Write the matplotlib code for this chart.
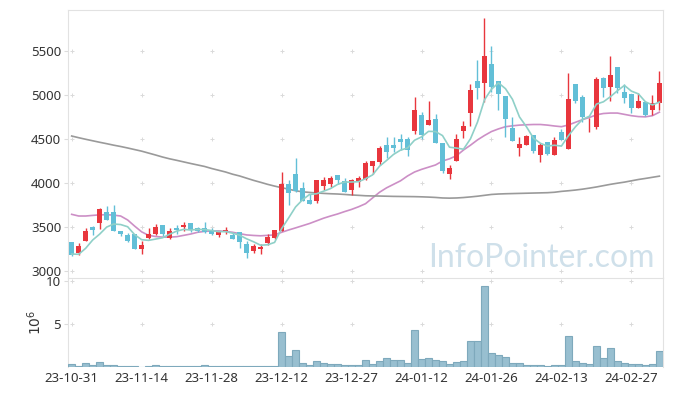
import matplotlib
matplotlib.use('Agg')
import matplotlib.pyplot as plt
import numpy as np

plt.rcParams['font.family'] = ['Noto Sans', 'DejaVu Sans']

tick_labels = ['23-10-31', '23-11-14', '23-11-28', '23-12-12', '23-12-27',
               '24-01-12', '24-01-26', '24-02-13', '24-02-27']

opens = [3330, 3200, 3345, 3500, 3540, 3670, 3670, 3455, 3405, 3420,
         3255, 3370, 3415, 3520, 3380, 3490, 3495, 3540, 3490, 3490,
         3465, 3410, 3450, 3410, 3440, 3305, 3230, 3245, 3320, 3370,
         3455, 3990, 4100, 3940, 3805, 3800, 3970, 3990, 4090, 4025,
         3920, 4015, 4040, 4195, 4240, 4430, 4430, 4505, 4505, 4595,
         4770, 4655, 4725, 4460, 4100, 4250, 4595, 4800, 5160, 5140,
         5350, 5160, 4990, 4625, 4400, 4430, 4545, 4320, 4465, 4320,
         4580, 4390, 5125, 4980, 4665, 4635, 5195, 5095, 5320, 5035,
         5010, 4855, 4925, 4830, 4905]
highs = [3335, 3320, 3490, 3510, 3720, 3740, 3745, 3455, 3430, 3425,
         3340, 3485, 3530, 3520, 3490, 3520, 3555, 3545, 3500, 3560,
         3485, 3460, 3495, 3430, 3440, 3345, 3305, 3305, 3415, 3470,
         4120, 4035, 4280, 4015, 3875, 4035, 4070, 4080, 4095, 4060,
         4045, 4080, 4245, 4255, 4415, 4525, 4525, 4555, 4525, 4980,
         4810, 4935, 4785, 4460, 4205, 4555, 4705, 5125, 5400, 5870,
         5555, 5160, 4990, 4745, 4525, 4545, 4545, 4460, 4470, 4520,
         4615, 5255, 5130, 5000, 4735, 5205, 5200, 5445, 5320, 5120,
         5010, 5020, 4925, 5000, 5270]
lows = [3175, 3180, 3340, 3410, 3480, 3575, 3455, 3395, 3325, 3250,
        3190, 3360, 3410, 3400, 3365, 3420, 3455, 3445, 3440, 3430,
        3410, 3385, 3420, 3365, 3260, 3145, 3200, 3195, 3295, 3365,
        3450, 3745, 3900, 3795, 3765, 3770, 3920, 3950, 3990, 3900,
        3865, 3960, 4035, 4100, 4205, 4280, 4355, 4375, 4305, 4555,
        4500, 4655, 4455, 4115, 4040, 4245, 4515, 4650, 4960, 4915,
        5040, 4830, 4525, 4480, 4310, 4430, 4340, 4240, 4320, 4315,
        4485, 4385, 4905, 4695, 4580, 4615, 4980, 4935, 5020, 4905,
        4790, 4855, 4760, 4775, 4830]
closes = [3180, 3285, 3455, 3470, 3705, 3580, 3460, 3425, 3345, 3255,
          3295, 3420, 3500, 3420, 3455, 3470, 3520, 3465, 3455, 3445,
          3415, 3455, 3470, 3365, 3330, 3210, 3285, 3275, 3390, 3465,
          3990, 3890, 3905, 3800, 3765, 4030, 4035, 4055, 4035, 3900,
          4030, 4055, 4225, 4250, 4395, 4355, 4400, 4470, 4370, 4835,
          4545, 4715, 4460, 4140, 4175, 4495, 4650, 5055, 5085, 5445,
          5095, 5010, 4725, 4480, 4445, 4535, 4365, 4430, 4325, 4490,
          4490, 4955, 4935, 4745, 4670, 5180, 5085, 5225, 5085, 4970,
          4855, 4930, 4775, 4905, 5135]

ma5 = [3193, 3190, 3258, 3352, 3419, 3499, 3534, 3528, 3503, 3413,
       3356, 3348, 3363, 3378, 3418, 3453, 3473, 3466, 3473, 3471,
       3460, 3447, 3448, 3430, 3407, 3366, 3332, 3293, 3298, 3325,
       3481, 3602, 3728, 3810, 3870, 3878, 3907, 3937, 3984, 4011,
       4011, 4015, 4049, 4092, 4191, 4256, 4325, 4374, 4398, 4486,
       4524, 4587, 4585, 4539, 4407, 4397, 4384, 4503, 4692, 4946,
       5066, 5138, 5072, 4951, 4751, 4639, 4510, 4451, 4420, 4429,
       4420, 4538, 4639, 4723, 4759, 4897, 4923, 4981, 5049, 5109,
       5044, 5013, 4923, 4887, 4920]
ma20 = [3644, 3625, 3625, 3632, 3638, 3640, 3635, 3625, 3580, 3510,
        3445, 3405, 3392, 3385, 3385, 3390, 3405, 3420, 3440, 3450,
        3455, 3456, 3450, 3440, 3425, 3410, 3404, 3400, 3405, 3410,
        3440, 3466, 3490, 3515, 3540, 3570, 3600, 3625, 3648, 3675,
        3700, 3730, 3765, 3830, 3895, 3945, 3985, 4025, 4080, 4125,
        4155, 4180, 4205, 4250, 4275, 4310, 4375, 4430, 4490, 4540,
        4585, 4615, 4640, 4650, 4658, 4662, 4665, 4665, 4658, 4648,
        4640, 4660, 4690, 4720, 4745, 4775, 4790, 4795, 4795, 4780,
        4765, 4755, 4752, 4765, 4805]
ma120 = [4534, 4515, 4497, 4480, 4463, 4447, 4430, 4415, 4398, 4380,
         4362, 4340, 4318, 4295, 4275, 4258, 4240, 4222, 4205, 4188,
         4165, 4145, 4125, 4100, 4080, 4055, 4030, 4008, 3985, 3965,
         3947, 3930, 3912, 3900, 3893, 3887, 3882, 3878, 3875, 3870,
         3864, 3860, 3855, 3853, 3852, 3850, 3848, 3847, 3846, 3845,
         3843, 3840, 3836, 3830, 3828, 3830, 3835, 3842, 3850, 3860,
         3870, 3875, 3878, 3880, 3882, 3884, 3886, 3888, 3890, 3895,
         3905, 3912, 3920, 3930, 3942, 3955, 3970, 3985, 3998, 4010,
         4025, 4040, 4052, 4065, 4078]

volume = [0.27, 0.08, 0.39, 0.16, 0.50, 0.16, 0.16, 0.08, 0.08, 0.08,
          0.02, 0.08, 0.20, 0.08, 0.08, 0.08, 0.08, 0.08, 0.08, 0.20,
          0.08, 0.08, 0.08, 0.08, 0.08, 0.08, 0.08, 0.08, 0.08, 0.08,
          4.02, 1.21, 1.95, 0.39, 0.20, 0.66, 0.39, 0.27, 0.27, 0.16,
          0.16, 0.16, 0.78, 0.27, 0.63, 1.02, 0.78, 0.78, 0.39, 4.30,
          0.86, 1.02, 0.78, 0.66, 0.27, 0.55, 0.66, 3.00, 3.00, 9.45,
          1.56, 1.33, 1.09, 0.39, 0.39, 0.16, 0.16, 0.16, 0.04, 0.16,
          0.16, 3.55, 0.66, 0.39, 0.27, 2.38, 0.98, 2.15, 0.66, 0.39,
          0.27, 0.27, 0.16, 0.27, 1.84]

o = np.array(opens)
c = np.array(closes)
h = np.array(highs)
l = np.array(lows)
x = np.arange(len(o))
up = c >= o
colors = np.where(up, '#e8363d', '#62bfd7')

fig = plt.figure(figsize=(6.73, 3.96), dpi=100)
ax1 = fig.add_axes([0.1013, 0.2992, 0.8837, 0.6755])
ax2 = fig.add_axes([0.1013, 0.074, 0.8837, 0.2252])

# candles
ax1.vlines(x, l, h, colors=colors, linewidth=1.0, zorder=3)
body_h = np.maximum(np.abs(c - o), 8)
ax1.bar(x, body_h, bottom=np.minimum(o, c), width=0.72, color=colors, zorder=3)

ax1.plot(x, ma5, color='#8fd0c8', linewidth=1.2, zorder=4)
ax1.plot(x, ma20, color='#cc8fc6', linewidth=1.2, zorder=2)
ax1.plot(x, ma120, color='#9a9a9a', linewidth=1.2, zorder=2)

# watermark
ax1.text(0.986, 0.039, 'InfoPointer.com', transform=ax1.transAxes, ha='right', va='baseline',
         fontsize=23, family=['Lato', 'DejaVu Sans'], color='#cfe0ea', zorder=1)

ax2.bar(x, volume, width=1.0, color='#98bfd0', edgecolor='#7ea9bc', linewidth=0.8, zorder=3)

xt = np.arange(0, 81, 10)
for ax, yt in ((ax1, [3000, 3500, 4000, 4500, 5000, 5500]), (ax2, [5, 10])):
    ax.set_xlim(-0.5, 84.5)
    ax.set_xticks(xt)
    ax.set_yticks(yt)
    gx, gy = np.meshgrid(xt, yt)
    ax.scatter(gx.ravel(), gy.ravel(), marker='+', s=7, color='#dadada', linewidths=0.7, zorder=0)
    for s in ['left', 'top', 'right']:
        ax.spines[s].set_color('#e2e2e2')
    ax.spines['bottom'].set_visible(False)
    ax.tick_params(axis='y', length=3, color='#dcdcdc', labelsize=9.5, labelcolor='#333333', pad=2)
    ax.tick_params(axis='x', length=0, labelsize=9.5, labelcolor='#333333')

ax1.set_ylim(2926, 5966)
ax1.set_xticklabels([])
ax2.set_ylim(0, 10.46)
ax2.set_xticklabels(tick_labels)
ax2.set_ylabel(r'$10^6$', fontsize=10, color='#333333', labelpad=1)

fig.savefig('out.png', dpi=100)
